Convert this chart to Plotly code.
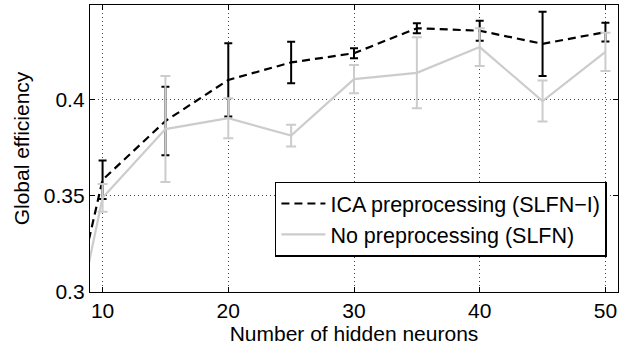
import plotly.graph_objects as go

# Data
neurons = [5, 10, 15, 20, 25, 30, 35, 40, 45, 50]
ica_mean = [0.215, 0.3584, 0.389, 0.4104, 0.4195, 0.4243, 0.4373, 0.4360, 0.4292, 0.4353]
ica_err = [0.010, 0.0100, 0.0178, 0.0191, 0.0108, 0.0026, 0.0026, 0.0052, 0.0167, 0.0049]
noprep_mean = [0.193, 0.3490, 0.3848, 0.3905, 0.3814, 0.4108, 0.4141, 0.4275, 0.3994, 0.4250]
noprep_err = [0.008, 0.0072, 0.0276, 0.0104, 0.0056, 0.0074, 0.0185, 0.0098, 0.0107, 0.0100]

x_ticks = [10, 20, 30, 40, 50]
y_ticks = [0.3, 0.35, 0.4]
y_tick_text = ["0.3", "0.35", "0.4"]

FONT = "Liberation Sans, Arial, Helvetica, sans-serif"
GRAY = "#cccccc"

fig = go.Figure()
fig.add_trace(go.Scatter(
    x=neurons, y=ica_mean, mode="lines",
    name="ICA preprocessing (SLFN\u2212I)",
    line=dict(color="black", width=2.2, dash="8px,5px"),
    error_y=dict(type="data", array=ica_err, visible=True,
                 color="black", thickness=2, width=4),
))
fig.add_trace(go.Scatter(
    x=neurons, y=noprep_mean, mode="lines",
    name="No preprocessing (SLFN)",
    line=dict(color=GRAY, width=2.2),
    error_y=dict(type="data", array=noprep_err, visible=True,
                 color=GRAY, thickness=2, width=5),
))

axis_common = dict(
    showline=True, linecolor="black", linewidth=1.3, mirror="ticks",
    ticks="inside", ticklen=5, tickwidth=1, tickcolor="black",
    showgrid=True, gridcolor="#444444", gridwidth=1, griddash="1px,3px",
    zeroline=False,
    tickfont=dict(family=FONT, size=21, color="black"),
)

fig.update_xaxes(
    range=[9, 51], tickvals=x_ticks,
    title=dict(text="Number of hidden neurons", font=dict(family=FONT, size=21, color="black"), standoff=0),
    **axis_common,
)
fig.update_yaxes(
    range=[0.3, 0.4494], tickvals=y_ticks, ticktext=y_tick_text,
    title=dict(text="Global efficiency", font=dict(family=FONT, size=21, color="black"), standoff=8),
    **axis_common,
)

fig.update_layout(
    width=626, height=347,
    margin=dict(l=90, r=8, t=5, b=55),
    paper_bgcolor="white", plot_bgcolor="white",
    font=dict(family=FONT, size=21, color="black"),
    showlegend=True,
    legend=dict(
        x=0.979, y=0.385, xanchor="right", yanchor="top",
        bgcolor="white", bordercolor="black", borderwidth=1.5,
        font=dict(family=FONT, size=21.5, color="black"),
        tracegroupgap=0, itemwidth=44,
    ),
)

fig.write_html("out.html")
